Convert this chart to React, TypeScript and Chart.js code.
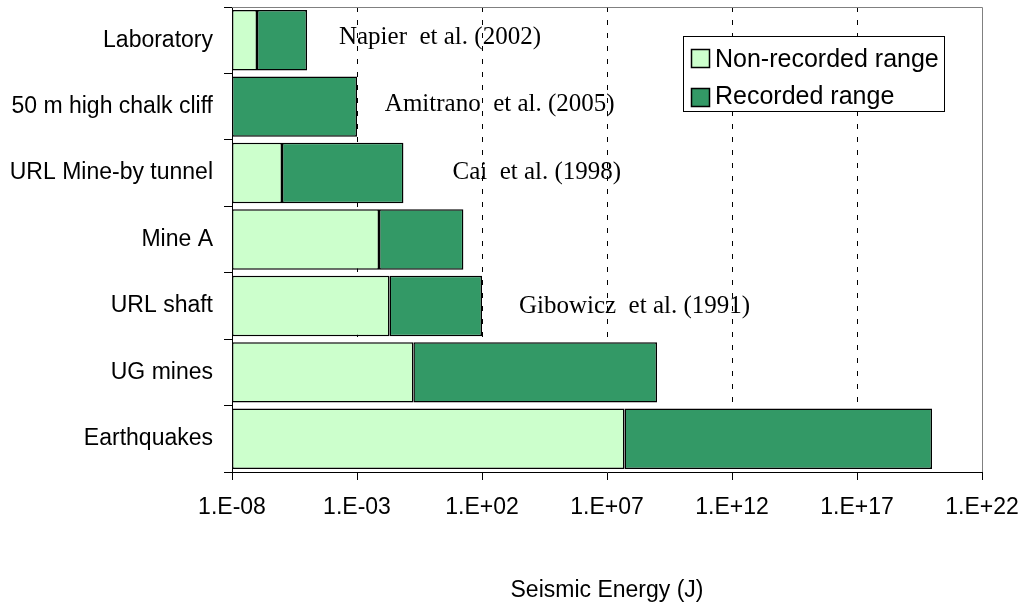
import React, { useEffect, useRef } from "react";
import { Chart, registerables } from "chart.js";

Chart.register(...registerables);

// ---- Data (energies in joules) ----
const categories = [
  "Laboratory",
  "50 m high chalk cliff",
  "URL Mine-by tunnel",
  "Mine A",
  "URL shaft",
  "UG mines",
  "Earthquakes",
];
const rangeStart = 1e-8;
// upper end of the non-recorded range (null = none)
const nonRecordedEnd: (number | null)[] = [1e-7, null, 1e-6, 7.6e-3, 2.0e-2, 1.8e-1, 5.0e7];
// upper end of the recorded range
const recordedEnd = [1e-5, 1e-3, 7.2e-2, 1.8e1, 1e2, 1e9, 1e20];
const xTickValues = [1e-8, 1e-3, 1e2, 1e7, 1e12, 1e17, 1e22];
const seriesNames = ["Non-recorded range", "Recorded range"];

const annotations = [
  { text: "Napier  et al. (2002)", category: 0, x: 1.9e-4, dy: 4 },
  { text: "Amitrano  et al. (2005)", category: 1, x: 1.3e-2, dy: 4 },
  { text: "Cai  et al. (1998)", category: 2, x: 6.6, dy: 6 },
  { text: "Gibowicz  et al. (1991)", category: 4, x: 3.0e3, dy: 7 },
];

const LIGHT = "#CCFFCC";
const DARK = "#339966";
const SANS = "'Liberation Sans', Arial, sans-serif";
const SERIF = "'Liberation Serif', 'Times New Roman', serif";

function fmtTick(v: number) {
  const e = Math.round(Math.log10(v));
  return `1.E${e < 0 ? "-" : "+"}${String(Math.abs(e)).padStart(2, "0")}`;
}

const overlayPlugin = {
  id: "overlay",
  afterDraw(chart: any) {
    const ctx = chart.ctx;
    const { left, right, top, bottom } = chart.chartArea;
    ctx.save();
    // plot frame (top and right)
    ctx.strokeStyle = "#808080";
    ctx.lineWidth = 1;
    ctx.setLineDash([]);
    ctx.beginPath();
    ctx.moveTo(Math.round(left), Math.round(top) + 0.5);
    ctx.lineTo(Math.round(right) + 0.5, Math.round(top) + 0.5);
    ctx.lineTo(Math.round(right) + 0.5, Math.round(bottom));
    ctx.stroke();

    // annotations
    const xs = chart.scales.x;
    const ys = chart.scales.y;
    ctx.fillStyle = "#000";
    ctx.font = `25px ${SERIF}`;
    ctx.textBaseline = "alphabetic";
    ctx.textAlign = "left";
    for (const a of annotations) {
      ctx.fillText(a.text, xs.getPixelForValue(a.x), ys.getPixelForValue(a.category) + a.dy);
    }

    // legend
    const lx = 683.5, ly = 36.5, lw = 261, lh = 75;
    ctx.fillStyle = "#fff";
    ctx.fillRect(lx, ly, lw, lh);
    ctx.strokeStyle = "#000";
    ctx.lineWidth = 1;
    ctx.strokeRect(lx, ly, lw, lh);
    const rows = [
      { name: seriesNames[0], color: LIGHT, sy: 49.5, base: 66.5 },
      { name: seriesNames[1], color: DARK, sy: 88.5, base: 104 },
    ];
    ctx.font = `25px ${SANS}`;
    for (const r of rows) {
      ctx.fillStyle = r.color;
      ctx.fillRect(691.5, r.sy, 18, 18);
      ctx.lineWidth = 1.5;
      ctx.strokeStyle = "#000";
      ctx.strokeRect(691.5, r.sy, 18, 18);
      ctx.fillStyle = "#000";
      ctx.fillText(r.name, 715, r.base);
    }
    ctx.restore();
  },
};

export default function App() {
  const ref = useRef<HTMLCanvasElement | null>(null);
  useEffect(() => {
    if (!ref.current) return;
    const barCommon = {
      borderColor: "#000",
      borderWidth: 1.5,
      borderSkipped: false,
      grouped: false,
      categoryPercentage: 1,
      barPercentage: 0.91,
    };
    const chart = new Chart(ref.current, {
      type: "bar",
      data: {
        labels: categories,
        datasets: [
          {
            label: seriesNames[0],
            data: categories.map((_, i) =>
              nonRecordedEnd[i] == null ? null : [rangeStart, nonRecordedEnd[i] as number]
            ),
            backgroundColor: LIGHT,
            ...barCommon,
          } as any,
          {
            label: seriesNames[1],
            data: categories.map((_, i) => [nonRecordedEnd[i] ?? rangeStart, recordedEnd[i]]),
            backgroundColor: DARK,
            ...barCommon,
          } as any,
        ],
      },
      options: {
        indexAxis: "y",
        responsive: false,
        animation: false,
        layout: { padding: { top: 7, right: 41, left: 0, bottom: 0 } },
        plugins: { legend: { display: false }, tooltip: { enabled: false } },
        scales: {
          x: {
            type: "logarithmic",
            min: xTickValues[0],
            max: xTickValues[xTickValues.length - 1],
            afterBuildTicks: (s: any) => {
              s.ticks = xTickValues.map((v) => ({ value: v }));
            },
            afterFit: (s: any) => {
              s.height = 134;
              s.paddingLeft = 0;
              s.paddingRight = 0;
            },
            ticks: {
              autoSkip: false,
              maxRotation: 0,
              color: "#000",
              padding: 14,
              font: { family: SANS, size: 23 },
              callback: (v: any) => fmtTick(Number(v)),
            },
            grid: {
              color: (c: any) =>
                c.index === 0 || c.index === xTickValues.length - 1 ? "rgba(0,0,0,0)" : "#000",
              tickColor: "#000",
              tickLength: 8,
              tickBorderDash: [],
              lineWidth: 1,
            },
            border: { color: "#000", width: 1, dash: [5, 8] },
            title: {
              display: true,
              text: "Seismic Energy (J)",
              color: "#000",
              font: { family: SANS, size: 23 },
              padding: { top: 0, bottom: 2 },
            },
          },
          y: {
            afterFit: (s: any) => {
              s.width = 232;
              s.paddingTop = 0;
              s.paddingBottom = 0;
            },
            ticks: { color: "#000", padding: 11, font: { family: SANS, size: 23 } },
            grid: { offset: true, drawOnChartArea: false, color: "#000", tickLength: 8 },
            border: { color: "#000", width: 1 },
          },
        },
      } as any,
      plugins: [overlayPlugin],
    });
    return () => chart.destroy();
  }, []);
  return (
    <div style={{ position: "fixed", left: 0, top: 0, width: 1023, height: 606, background: "#fff" }}>
      <canvas ref={ref} width={1023} height={606} style={{ display: "block" }} />
    </div>
  );
}
